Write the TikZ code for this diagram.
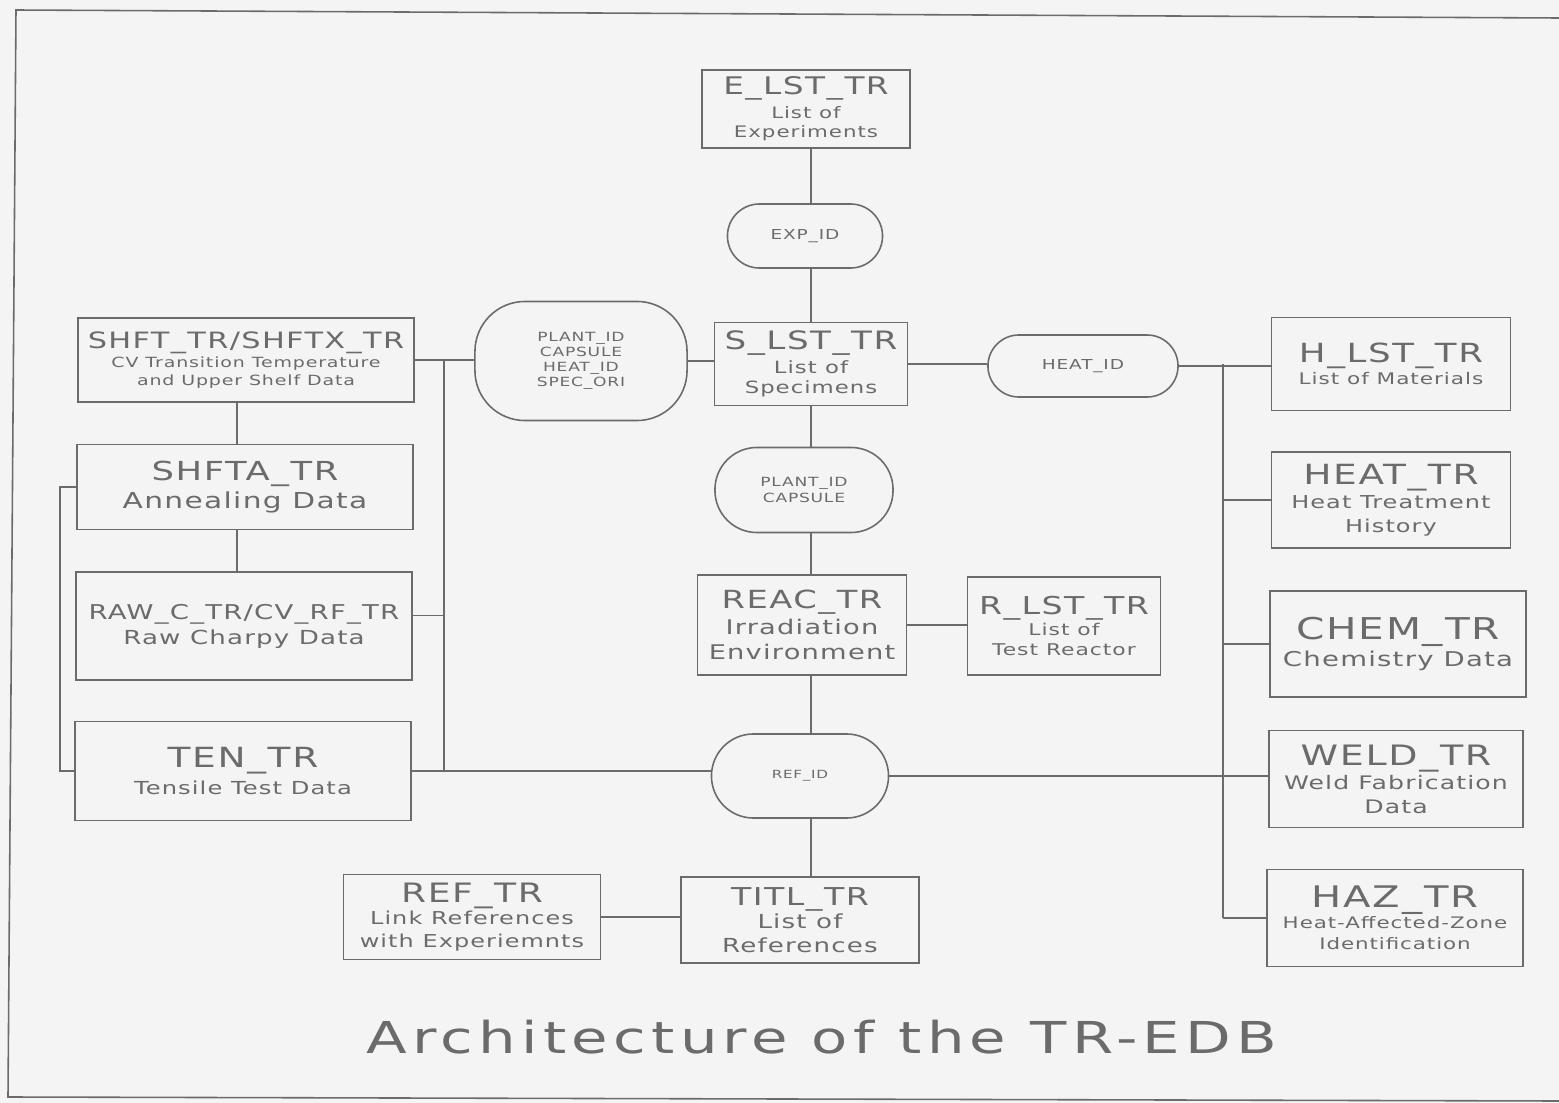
\documentclass[tikz,border=0pt]{standalone}
\usepackage{fontspec}
\setmainfont{DejaVu Sans}[FakeStretch=1.35,LetterSpace=6]
\newfontfamily\titlefont{DejaVu Sans}[FakeStretch=1.35,LetterSpace=12]
\definecolor{ink}{gray}{.42}
\definecolor{paper}{gray}{.955}
\newcommand\fsz[2]{\fontsize{#1}{#2}\selectfont}

\begin{document}
\begin{tikzpicture}[x=.01cm,y=-.01cm,
                    line/.style={draw=ink,line width=.45pt},
                    tbl/.style={draw=ink,line width=.45pt,text=ink,align=center,inner sep=0pt},
                    idbox/.style={tbl,rounded corners=#1,font=\fsz{3.6}{4.3}},
                    idbox/.default=.3cm]
 \useasboundingbox (0,0) rectangle (1559,1103);
 \fill[paper] (0,0) rectangle (1559,1103);
 \draw[line] (1559,18)--(16,10)--(8,1097)--(1559,1101);
 \coordinate (spine) at (811,0); \coordinate (lbus) at (444,0);
 \coordinate (lcol) at (237,0); \coordinate (rbus) at (1223,0);
 % centre column
 \node[tbl,minimum width=2.08cm,minimum height=.78cm,font=\fsz{4.5}{5.6}] (elst) at (806,109)
   {{\fsz{6.9}{7}E\_LST\_TR}\\[1pt]List of\\Experiments};
 \node[idbox=.32cm,minimum width=1.55cm,minimum height=.64cm,font=\fsz{3.9}{4.5}] (expid) at (805,236) {EXP\_ID};
 \node[tbl,minimum width=1.93cm,minimum height=.83cm,font=\fsz{4.8}{5.8}] (slst) at (811,364)
   {{\fsz{7.2}{7}S\_LST\_TR}\\[1pt]List of\\Specimens};
 \node[idbox=.5cm,minimum width=2.12cm,minimum height=1.19cm] (plant) at (581,361)
   {PLANT\_ID\\CAPSULE\\HEAT\_ID\\SPEC\_ORI};
 \node[idbox=.31cm,minimum width=1.9cm,minimum height=.62cm,font=\fsz{3.9}{4.5}] (heatid) at (1083,366) {HEAT\_ID};
 \node[idbox=.42cm,minimum width=1.78cm,minimum height=.85cm] (capid) at (804,490) {PLANT\_ID\\CAPSULE};
 \node[tbl,minimum width=2.09cm,minimum height=1cm,font=\fsz{5.75}{7.3}] (reac) at (802,625)
   {{\fsz{7.1}{7}REAC\_TR}\\Irradiation\\Environment};
 \node[tbl,minimum width=1.93cm,minimum height=.98cm,font=\fsz{4.6}{5.8}] (rlst) at (1064,626)
   {{\fsz{7}{7}R\_LST\_TR}\\List of\\Test Reactor};
 \node[idbox=.42cm,minimum width=1.77cm,minimum height=.84cm,font=\fsz{3.2}{4}] (refid) at (800,776) {REF\_ID};
 \node[tbl,minimum width=2.38cm,minimum height=.86cm,font=\fsz{5.5}{6.7}] (titl) at (800,920)
   {{\fsz{7}{7}TITL\_TR}\\List of\\References};
 \node[tbl,minimum width=2.57cm,minimum height=.85cm,font=\fsz{5.05}{6.4}] (reftr) at (472,917)
   {{\fsz{7.6}{7}REF\_TR}\\Link References\\with Experiemnts};
 % left column
 \node[tbl,minimum width=3.36cm,minimum height=.84cm,font=\fsz{4}{5}] (shft) at (246,360)
   {{\fsz{6.4}{7}SHFT\_TR/SHFTX\_TR}\\[.5pt]CV Transition Temperature\\and Upper Shelf Data};
 \node[tbl,minimum width=3.36cm,minimum height=.85cm,font=\fsz{6.25}{8}] (shfta) at (245,487)
   {{\fsz{7.45}{8}SHFTA\_TR}\\Annealing Data};
 \node[tbl,minimum width=3.36cm,minimum height=1.08cm,font=\fsz{5.5}{7.1}] (raw) at (244,626)
   {{\fsz{5.8}{7}RAW\_C\_TR/CV\_RF\_TR}\\Raw Charpy Data};
 \node[tbl,minimum width=3.36cm,minimum height=.99cm,font=\fsz{5.1}{7.7}] (ten) at (243,771)
   {{\fsz{7.9}{8}TEN\_TR}\\Tensile Test Data};
 % right column
 \node[tbl,minimum width=2.39cm,minimum height=.93cm,font=\fsz{4.55}{6.3}] (hlst) at (1391,364)
   {{\fsz{7.5}{7}H\_LST\_TR}\\List of Materials};
 \node[tbl,minimum width=2.39cm,minimum height=.96cm,font=\fsz{5.05}{6.8}] (heat) at (1391,500)
   {{\fsz{7.9}{7}HEAT\_TR}\\Heat Treatment\\History};
 \node[tbl,minimum width=2.56cm,minimum height=1.06cm,font=\fsz{5.8}{7.7}] (chem) at (1398,644)
   {{\fsz{8.55}{8}CHEM\_TR}\\Chemistry Data};
 \node[tbl,minimum width=2.54cm,minimum height=.97cm,font=\fsz{5.3}{6.8}] (weld) at (1396,779)
   {{\fsz{8}{8}WELD\_TR}\\Weld Fabrication\\Data};
 \node[tbl,minimum width=2.56cm,minimum height=.97cm,font=\fsz{4.5}{6}] (haz) at (1395,918)
   {{\fsz{8.45}{8}HAZ\_TR}\\Heat-Affected-Zone\\Identification};
 % links
 \draw[line] (elst.south -| spine) -- (expid.north -| spine);
 \draw[line] (expid.south -| spine) -- (slst.north -| spine);
 \draw[line] (slst.south -| spine) -- (capid.north -| spine);
 \draw[line] (capid.south -| spine) -- (reac.north -| spine);
 \draw[line] (reac.south -| spine) -- (refid.north -| spine);
 \draw[line] (refid.south -| spine) -- (titl.north -| spine);
 \draw[line] (plant.east) -- (plant.east -| slst.west);
 \draw[line] (slst.east) -- (slst.east -| heatid.west);
 \draw[line] (heatid.east) -- (heatid.east -| hlst.west);
 \draw[line] (reac.east) -- (reac.east -| rlst.west);
 \draw[line] (reftr.east) -- (reftr.east -| titl.west);
 \draw[line] (ten.east) -- (ten.east -| refid.west);
 \draw[line] (refid.east) -- (refid.east -| weld.west);
 \draw[line] (shft.east) -- (shft.east -| plant.west);
 \draw[line] (shft.east -| lbus) -- (ten.east -| lbus);
 \draw[line] ([yshift=3pt]raw.east) -- ([yshift=3pt]raw.east -| lbus);
 \draw[line] (shft.south -| lcol) -- (shfta.north -| lcol);
 \draw[line] (shfta.south -| lcol) -- (raw.north -| lcol);
 \draw[line] (shfta.west) -- ++(-16,0) |- (ten.west);
 \draw[line] (hlst.west -| rbus) -- (haz.west -| rbus);
 \foreach \n in {heat,chem,haz} \draw[line] (\n.west -| rbus) -- (\n.west);
 \node[text=ink,font=\titlefont\fsz{12.5}{14}] (title) at (822,1037) {Architecture of the TR-EDB};
\end{tikzpicture}
\end{document}
